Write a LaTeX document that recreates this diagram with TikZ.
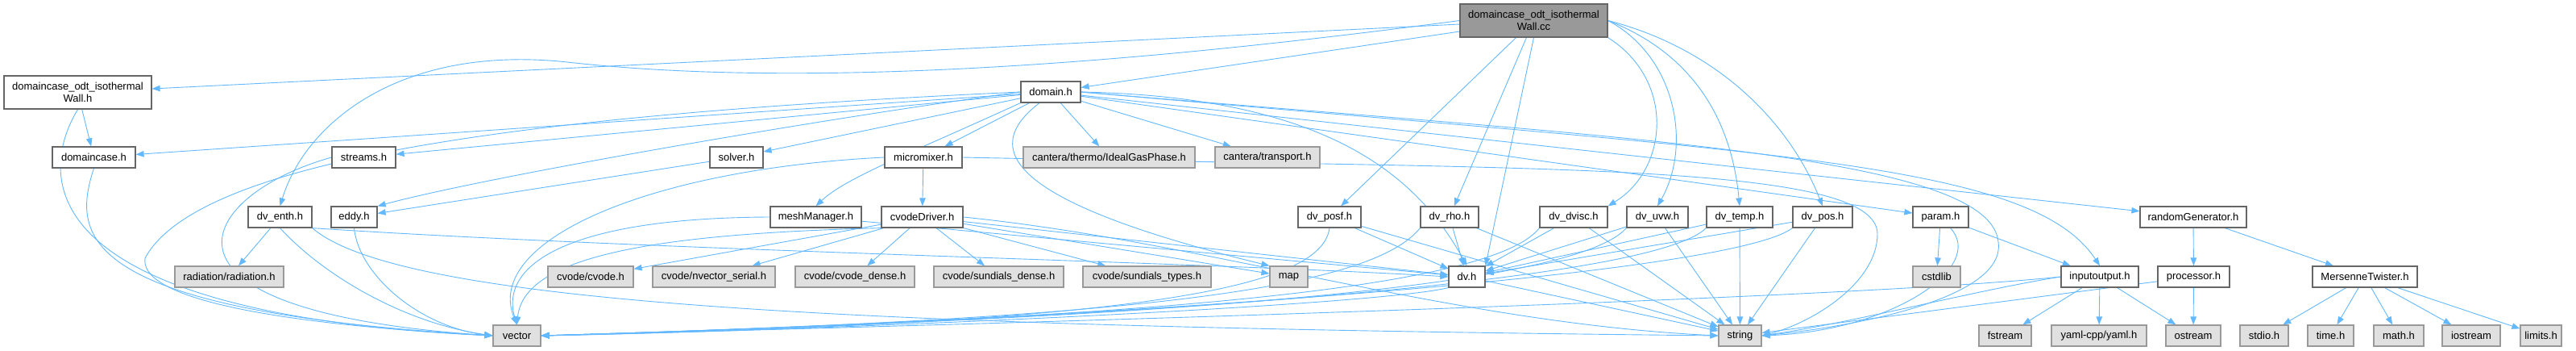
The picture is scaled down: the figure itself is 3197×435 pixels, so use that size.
\documentclass[tikz,border=0pt]{standalone}
\usepackage{fontspec}
\setmainfont{Liberation Sans}
\usetikzlibrary{arrows.meta,backgrounds}
\definecolor{edgeblue}{HTML}{63B8FF}
\definecolor{boxline}{HTML}{666666}
\definecolor{sysline}{HTML}{999999}
\definecolor{sysfill}{HTML}{E0E0E0}
\definecolor{rootfill}{HTML}{999999}

\begin{document}
\begin{tikzpicture}[x=1pt, y=-1pt,
  hdr/.style={draw=boxline, line width=1.2pt, fill=white, minimum height=26pt, inner sep=0pt,
    align=center, font=\fontsize{13}{15}\selectfont},
  sys/.style={hdr, draw=sysline, fill=sysfill},
  rootbox/.style={hdr, fill=rootfill, minimum height=41pt},
  dep/.style={draw=edgeblue, line width=0.9pt, -{Triangle[length=10pt,width=7.5pt]}}]
  \useasboundingbox (0,0) rectangle (3197,435);

  \node[rootbox, minimum width=183pt] (cc) at (1903.5,25.5) {domaincase\_odt\_isothermal\\Wall.cc};

  \node[hdr, minimum width=183pt, minimum height=41pt] (wallh) at (96.5,114.5) {domaincase\_odt\_isothermal\\Wall.h};
  \node[hdr, minimum width=74pt] (domain) at (1304,114) {domain.h};

  \node[hdr, minimum width=103pt] (dcase) at (116.5,195) {domaincase.h};
  \node[hdr, minimum width=79pt] (streams) at (451.5,195) {streams.h};
  \node[hdr, minimum width=66pt] (solver) at (914,195) {solver.h};
  \node[hdr, minimum width=96pt] (micromixer) at (1146,195) {micromixer.h};
  \node[sys, minimum width=213pt] (ideal) at (1376.5,195) {cantera/thermo/IdealGasPhase.h};
  \node[sys, minimum width=130pt] (transport) at (1573,195) {cantera/transport.h};

  \node[hdr, minimum width=79pt] (enth) at (347.5,269) {dv\_enth.h};
  \node[hdr, minimum width=57pt] (eddy) at (439.5,269) {eddy.h};
  \node[hdr, minimum width=113pt] (mesh) at (1012.5,269) {meshManager.h};
  \node[hdr, minimum width=101pt] (driver) at (1144.5,269) {cvodeDriver.h};
  \node[hdr, minimum width=78pt] (posf) at (1650,269) {dv\_posf.h};
  \node[hdr, minimum width=72pt] (rho) at (1799,269) {dv\_rho.h};
  \node[hdr, minimum width=84pt] (dvisc) at (1953,269) {dv\_dvisc.h};
  \node[hdr, minimum width=76pt] (uvw) at (2057,269) {dv\_uvw.h};
  \node[hdr, minimum width=82pt] (temp) at (2159,269) {dv\_temp.h};
  \node[hdr, minimum width=74pt] (pos) at (2262,269) {dv\_pos.h};
  \node[hdr, minimum width=69pt] (param) at (2408.5,269) {param.h};
  \node[hdr, minimum width=132pt] (rng) at (2722,269) {randomGenerator.h};

  \node[sys, minimum width=135pt] (radiation) at (284.5,343) {radiation/radiation.h};
  \node[sys, minimum width=106pt] (cvode) at (733,343) {cvode/cvode.h};
  \node[sys, minimum width=152pt] (nvector) at (886,343) {cvode/nvector\_serial.h};
  \node[sys, minimum width=148pt] (cdense) at (1061,343) {cvode/cvode\_dense.h};
  \node[sys, minimum width=161pt] (sdense) at (1239.5,343) {cvode/sundials\_dense.h};
  \node[sys, minimum width=159pt] (stypes) at (1423.5,343) {cvode/sundials\_types.h};
  \node[sys, minimum width=47pt] (map) at (1599.5,343) {map};
  \node[hdr, minimum width=45pt] (dv) at (1820.5,343) {dv.h};
  \node[sys, minimum width=59pt] (cstdlib) at (2403.5,343) {cstdlib};
  \node[hdr, minimum width=96pt] (io) at (2606,343) {inputoutput.h};
  \node[hdr, minimum width=89pt] (proc) at (2722.5,343) {processor.h};
  \node[hdr, minimum width=130pt] (mt) at (2935,343) {MersenneTwister.h};

  \node[sys, minimum width=59pt] (vector) at (641.5,416) {vector};
  \node[sys, minimum width=53pt] (string) at (2159.5,416) {string};
  \node[sys, minimum width=65pt] (fstream) at (2488.5,416) {fstream};
  \node[sys, minimum width=118pt] (yaml) at (2605,416) {yaml-cpp/yaml.h};
  \node[sys, minimum width=68pt] (ostream) at (2722,416) {ostream};
  \node[sys, minimum width=60pt] (stdio) at (2810,416) {stdio.h};
  \node[sys, minimum width=57pt] (time) at (2892.5,416) {time.h};
  \node[sys, minimum width=62pt] (math) at (2977,416) {math.h};
  \node[sys, minimum width=72pt] (iostream) at (3067,416) {iostream};
  \node[sys, minimum width=51pt] (limits) at (3153.5,416) {limits.h};

  \begin{scope}[on background layer]
  % straight includes
  \foreach \a/\b in {cc/wallh, cc/domain, cc/posf, cc/rho, wallh/dcase,
      domain/dcase, domain/streams, domain/solver, domain/micromixer, domain/ideal,
      domain/transport, domain/rng, domain/param, solver/eddy, micromixer/driver,
      enth/radiation, driver/cvode, driver/nvector, driver/cdense, driver/sdense,
      driver/stypes, driver/map, driver/dv, mesh/dv, posf/dv, rho/dv, dvisc/dv,
      uvw/dv, temp/dv, pos/dv, param/cstdlib, param/io, io/fstream, io/yaml,
      io/ostream, rng/proc, rng/mt, proc/ostream, mt/stdio, mt/time, mt/math,
      mt/iostream, mt/limits, posf/string, rho/string, dvisc/string, uvw/string,
      temp/string, pos/string, dv/string, proc/string}
    \draw[dep] (\a) -- (\b);
  \draw[dep] (cc.south) -- (dv.north east);

  % curved includes from the top file
  \draw[dep] (cc.west) .. controls (1400,80) and (1000,110) .. (704,77)
    .. controls (500,55) and (380,150) .. (enth.north);
  \draw[dep] (cc.south east) .. controls (2080,100) and (2070,210) .. (dvisc.north east);
  \draw[dep] (cc.east) .. controls (2080,70) and (2100,180) .. (uvw.north);
  \draw[dep] (cc.east) .. controls (2110,70) and (2150,160) .. (temp.north);
  \draw[dep] (cc.east) .. controls (2130,60) and (2220,150) .. (pos.north);

  % curved includes from domain.h
  \draw[dep] (domain.west) .. controls (1000,150) and (600,220) .. (eddy.north east);
  \draw[dep] (domain.south west) .. controls (1130,190) and (1050,220) .. (mesh.north);
  \draw[dep] ([xshift=-14pt]domain.south) .. controls (1215,185) and (1250,250) .. (map.north west);
  \draw[dep] (domain.east) .. controls (1650,120) and (1760,220) .. (dv.north);
  \draw[dep] (domain.east) .. controls (2200,190) and (2520,200) .. (io.north);
  \draw[dep] (domain.east) .. controls (2000,170) and (2470,190) .. (2480,300)
    .. controls (2490,370) and (2300,405) .. (string.east);
  \draw[dep] (micromixer.east) .. controls (1900,210) and (2330,200) .. (2330,290)
    .. controls (2330,350) and (2250,400) .. (string.east);

  % into vector
  \draw[dep] (wallh.south) .. controls (40,230) and (60,390) .. (vector.west);
  \draw[dep] (dcase.south) .. controls (90,290) and (90,385) .. (vector.west);
  \draw[dep] (domain.west) .. controls (700,140) and (250,190) .. (180,320)
    .. controls (170,390) and (500,410) .. (vector.west);
  \draw[dep] (streams.west) .. controls (250,240) and (150,385) .. (vector.west);
  \draw[dep] (eddy.south) .. controls (445,340) and (520,405) .. (vector.west);
  \draw[dep] (enth.south) .. controls (400,340) and (500,400) .. (vector.west);
  \draw[dep] (micromixer.west) .. controls (800,210) and (600,300) .. (vector.north);
  \draw[dep] (mesh.west) .. controls (700,270) and (620,330) .. (vector.north);
  \draw[dep] (driver.south west) .. controls (800,290) and (650,320) .. (vector.north);
  \draw[dep] (posf.south) .. controls (1640,360) and (1400,400) .. (vector.east);
  \draw[dep] (rho.south west) .. controls (1700,360) and (1400,395) .. (vector.east);
  \draw[dep] (dvisc.south west) .. controls (1850,360) and (1400,395) .. (vector.east);
  \draw[dep] (uvw.south west) .. controls (1950,360) and (1400,395) .. (vector.east);
  \draw[dep] (temp.south west) .. controls (2050,350) and (1400,395) .. (vector.east);
  \draw[dep] (pos.south west) .. controls (2150,340) and (1400,395) .. (vector.east);
  \draw[dep] (dv.south west) .. controls (1700,380) and (1000,410) .. (vector.east);
  \draw[dep] (io.west) .. controls (2300,370) and (1300,400) .. (vector.east);

  % long ones to dv.h and string
  \draw[dep] (enth.south east) .. controls (800,310) and (1500,325) .. (dv.west);
  \draw[dep] (enth.south east) .. controls (500,380) and (1100,405) .. (string.west);
  \draw[dep] (driver.east) .. controls (1500,300) and (1800,400) .. (string.west);
  \draw[dep] ([xshift=12pt]param.south) .. controls (2465,330) and (2350,410) .. (string.east);
  \draw[dep] (io.west) .. controls (2450,360) and (2300,400) .. (string.east);
  \end{scope}
\end{tikzpicture}
\end{document}
